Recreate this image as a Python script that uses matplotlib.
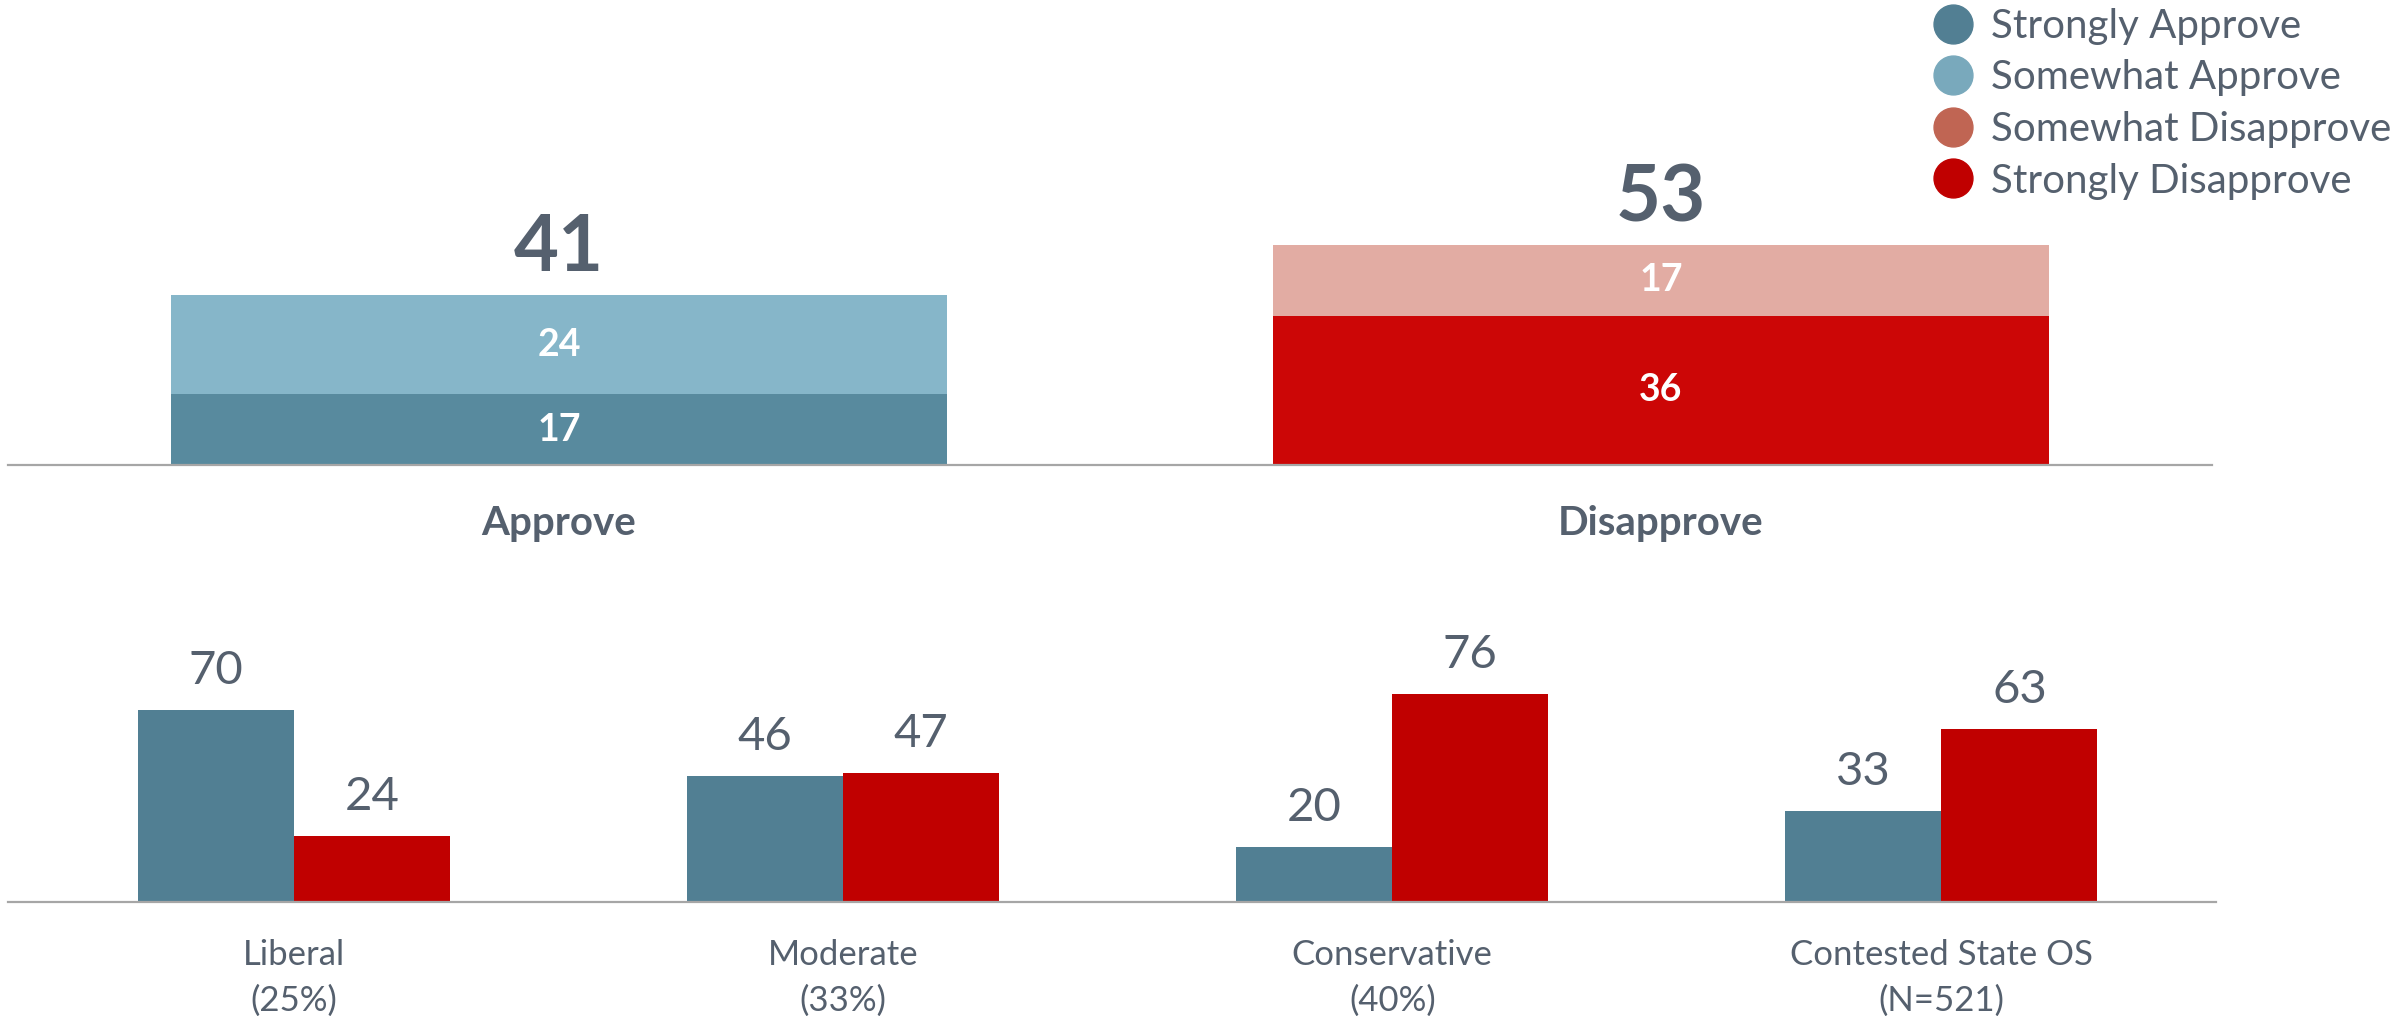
import matplotlib
matplotlib.use("Agg")
import matplotlib.pyplot as plt
from matplotlib.lines import Line2D
import numpy as np

plt.rcParams['font.family'] = ['Lato', 'DejaVu Sans']

# top chart data
top_cats = ['Approve', 'Disapprove']
strongly = [17, 36]
somewhat = [24, 17]

# bottom chart data
groups = ['Liberal\n(25%)', 'Moderate\n(33%)', 'Conservative\n(40%)', 'Contested State OS\n(N=521)']
approve = [70, 46, 20, 33]
disapprove = [24, 47, 76, 63]

legend_labels = ['Strongly Approve', 'Somewhat Approve', 'Somewhat Disapprove', 'Strongly Disapprove']
legend_colors = ['#527f93', '#79a9bc', '#c06553', '#c00000']

TXT = '#55606e'
AXIS = '#a6a6a6'

W, H = 2400, 1016
fig = plt.figure(figsize=(W / 100, H / 100), dpi=100)


def px_axes(x0, x1, ybase, ytop):
    # pixel box (from top-left) -> figure fraction
    return fig.add_axes([x0 / W, (H - ybase) / H, (x1 - x0) / W, (ybase - ytop) / H])


def clean(ax):
    for s in ['top', 'right', 'left']:
        ax.spines[s].set_visible(False)
    ax.spines['bottom'].set_color(AXIS)
    ax.spines['bottom'].set_linewidth(1.6)
    ax.set_yticks([])
    ax.set_xticks([])
    ax.patch.set_alpha(0)


# ---- top stacked bars ----
ax1 = px_axes(8, 2212, 465, 150)
clean(ax1)
ax1.set_xlim(-0.5, 1.5)
ax1.set_ylim(0, 315 / 4.15)
x = np.arange(len(top_cats))
low_cols = ['#588a9e', '#cc0606']
up_cols = ['#86b6c9', '#e2aca3']
ax1.bar(x, strongly, width=0.705, color=low_cols)
ax1.bar(x, somewhat, width=0.705, bottom=strongly, color=up_cols)
for i in range(len(top_cats)):
    ax1.text(x[i], strongly[i] / 2, str(strongly[i]), ha='center', va='center',
             color='white', fontsize=27, fontweight='bold')
    ax1.text(x[i], strongly[i] + somewhat[i] / 2, str(somewhat[i]), ha='center', va='center',
             color='white', fontsize=27, fontweight='bold')
    tot = strongly[i] + somewhat[i]
    ax1.annotate(str(tot), (x[i], tot), xytext=(0, 33), textcoords='offset points',
                 ha='center', va='center', color=TXT, fontsize=56, fontweight='bold')
    ax1.annotate(top_cats[i], (x[i], 0), xytext=(0, -42), textcoords='offset points',
                 ha='center', va='center', color=TXT, fontsize=29, fontweight='bold')

# ---- bottom grouped bars ----
ax2 = px_axes(8, 2216, 901.5, 620)
clean(ax2)
ax2.set_xlim(-0.5 - 11.4 / 549.3, 3.5)
ax2.set_ylim(0, 281.5 / 2.736)
g = np.arange(len(groups))
bw = 0.284
ax2.bar(g - bw / 2, approve, width=bw, color='#517f93')
ax2.bar(g + bw / 2, disapprove, width=bw, color='#c00000')
for i in range(len(groups)):
    ax2.annotate(str(approve[i]), (g[i] - bw / 2, approve[i]), xytext=(0, 28),
                 textcoords='offset points', ha='center', va='center', color=TXT, fontsize=34)
    ax2.annotate(str(disapprove[i]), (g[i] + bw / 2, disapprove[i]), xytext=(0, 28),
                 textcoords='offset points', ha='center', va='center', color=TXT, fontsize=34)
    ax2.annotate(groups[i], (g[i], 0), xytext=(0, -55), textcoords='offset points',
                 ha='center', va='center', color=TXT, fontsize=25, linespacing=1.55)

# ---- legend ----
handles = [Line2D([], [], marker='o', linestyle='', markersize=28, color=c) for c in legend_colors]
fig.legend(handles, legend_labels, loc='upper left', bbox_to_anchor=(1935 / W, 1 - 8 / H),
           frameon=False, fontsize=29, labelcolor=TXT, handlelength=0.9, handletextpad=0.5,
           labelspacing=0.36, borderaxespad=0, borderpad=0)

fig.savefig('out.png', dpi=100)
